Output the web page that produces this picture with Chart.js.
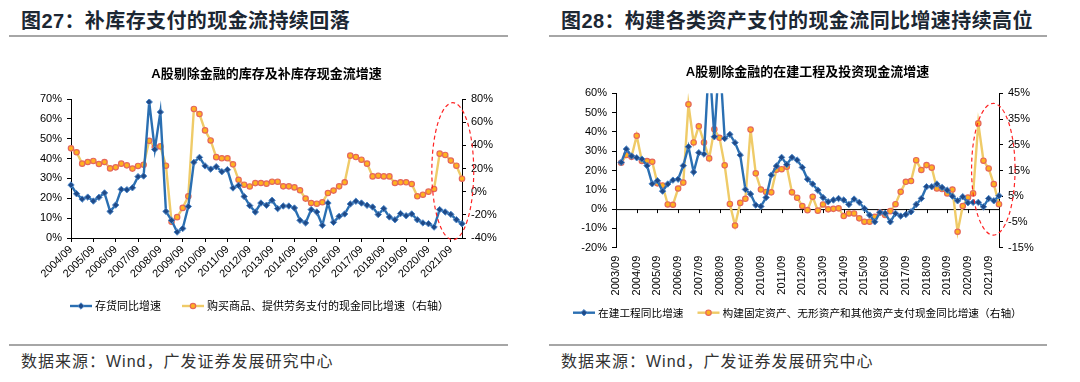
<!DOCTYPE html>
<html>
<head>
<meta charset="utf-8">
<script src="https://cdn.jsdelivr.net/npm/chart.js@4.4.0/dist/chart.umd.min.js"></script>
<style>
  body { margin: 0; width: 1080px; height: 382px; background: #fff; position: relative; overflow: hidden;
         font-family: 'Liberation Sans', 'Noto Sans CJK SC', sans-serif; }
  .head { position: absolute; top: 9px; line-height: 24px; font-size: 20px; font-weight: bold; color: #1c2733;
          letter-spacing: 0.4px; white-space: nowrap; }
  .rule { position: absolute; height: 2px; background: #a6a6a6; }
  .foot { position: absolute; top: 351px; line-height: 22px; font-size: 16px; color: #333; letter-spacing: 1px; white-space: nowrap; }
  .box { position: absolute; top: 40px; width: 540px; height: 290px; }
</style>
</head>
<body>
<div class="head" style="left:21px">图27：补库存支付的现金流持续回落</div>
<div class="rule" style="left:9px; top:35px; width:499px"></div>
<div class="head" style="left:561px">图28：构建各类资产支付的现金流同比增速持续高位</div>
<div class="rule" style="left:549px; top:35px; width:498px"></div>

<div class="box" style="left:0"><canvas id="invChart"></canvas></div>
<div class="box" style="left:540px"><canvas id="capChart"></canvas></div>

<div class="rule" style="left:9px; top:344px; width:499px"></div>
<div class="rule" style="left:549px; top:344px; width:498px"></div>
<div class="foot" style="left:21px">数据来源：Wind，广发证券发展研究中心</div>
<div class="foot" style="left:561px">数据来源：Wind，广发证券发展研究中心</div>

<script>
const FONT = "'Liberation Sans', 'Noto Sans CJK SC', sans-serif";

// quarters 2003/09 .. 2022/03
const quarters = ['2003/09','2003/12',
  '2004/03','2004/06','2004/09','2004/12','2005/03','2005/06','2005/09','2005/12',
  '2006/03','2006/06','2006/09','2006/12','2007/03','2007/06','2007/09','2007/12',
  '2008/03','2008/06','2008/09','2008/12','2009/03','2009/06','2009/09','2009/12',
  '2010/03','2010/06','2010/09','2010/12','2011/03','2011/06','2011/09','2011/12',
  '2012/03','2012/06','2012/09','2012/12','2013/03','2013/06','2013/09','2013/12',
  '2014/03','2014/06','2014/09','2014/12','2015/03','2015/06','2015/09','2015/12',
  '2016/03','2016/06','2016/09','2016/12','2017/03','2017/06','2017/09','2017/12',
  '2018/03','2018/06','2018/09','2018/12','2019/03','2019/06','2019/09','2019/12',
  '2020/03','2020/06','2020/09','2020/12','2021/03','2021/06','2021/09','2021/12',
  '2022/03'];
const invQuarters = quarters.slice(4); // left chart starts 2004/09

// left chart: inventory yoy (left axis) and cash paid for goods yoy (right axis), %
const inventoryYoY = [26.7, 22.3, 19.6, 20.6, 18.6, 20.5, 22.7, 13.4, 16.6, 24.5,
  24.3, 25.3, 30.9, 31.2, 68.5, 44.6, 63.4, 13.4, 8.9, 3.0,
  4.8, 15.9, 38.1, 40.6, 36.3, 34.7, 35.9, 33.4, 34.4, 25.2,
  26.5, 20.9, 16.3, 13.1, 17.6, 16.5, 19.0, 14.8, 16.1, 16.1,
  15.1, 8.9, 7.6, 14.3, 13.1, 6.4, 17.6, 7.9, 10.9, 12.1,
  17.1, 18.5, 17.6, 16.5, 15.6, 11.8, 14.8, 10.6, 9.2, 12.3,
  11.2, 12.1, 9.2, 7.6, 7.2, 5.5, 14.3, 13.1, 11.9, 9.2, 7.2];
const purchaseCashYoY = [37.4, 34.0, 24.2, 25.6, 26.5, 23.9, 25.6, 20.1, 21.0, 24.2,
  22.7, 19.9, 22.2, 23.3, 43.9, 38.4, 39.1, 22.4, -26, -22,
  -14, -4, 71.4, 67.0, 52.9, 44.2, 29.8, 28.8, 28.8, 23.6,
  10.2, 6.0, 4.5, 7.4, 7.5, 6.9, 8.6, 8.6, 4.6, 4.6,
  3.7, 1.2, -6.0, -9.8, -10.4, -9.2, -1.2, 0.9, 4.6, 8.1,
  31.1, 29.9, 27.6, 24.2, 13.2, 13.8, 13.2, 13.2, 7.5, 8.1,
  8.1, 6.6, -4.0, -2.6, 0.0, 2.3, 32.8, 31.7, 26.8, 22.4, 11.2];

// right chart: construction in progress yoy (left axis) and capex cash yoy (right axis), %
const cipYoY = [null, 24.2, 31.1, 27.5, 26.6, 25.9, 22.5, 13.1, 14.7, 9.3,
  13.0, 15.0, 15.5, 22.5, 32.3, 19.2, 29.2, 28.5, 78, 37.5,
  80, 36.6, 38.7, 34.4, 28.0, 10.2, 7.8, 2.1, 1.4, 6.0,
  17.6, 22.3, 26.8, 23.1, 26.8, 25.4, 21.6, 15.5, 13.0, 9.8,
  6.0, 3.8, 4.7, 5.5, 4.7, 2.4, 5.2, 3.5, 0.3, -3.1,
  -6.6, -1.7, -2.2, -6.6, -2.2, -3.6, -2.8, -1.4, 2.4, 5.5,
  11.6, 11.6, 13.0, 11.2, 9.8, 6.7, 4.3, 6.4, 3.3, 3.5,
  3.5, 1.2, 5.5, 4.3, 6.9];
const capexCashYoY = [null, 18.0, 21.0, 20.3, 28.5, 18.7, 18.7, 18.4, 10.0, 9.2,
  1.8, 1.7, 8.0, 10.3, 40.7, 25.9, 32.2, 25.9, 19.7, 31.0,
  27.7, 17.0, 2.0, -6.4, 2.4, 4.0, 30.9, 13.9, 7.6, 6.6,
  6.5, 15.3, 15.5, 16.5, 6.5, 4.4, 1.2, -0.4, 4.8, -0.6,
  1.8, -0.1, 0.1, 0.3, -2.7, -1.7, -1.7, -3.6, -4.9, -4.9,
  -3.0, -1.3, -2.3, -0.8, 1.9, 6.7, 10.6, 10.9, 19.0, 15.2,
  17.1, 16.1, 8.0, 7.8, 6.1, 7.6, -8.8, 1.2, 4.5, 6.1,
  33.3, 18.8, 15.8, 9.7, 1.9];

// axis ranges [min, max, step]
const invLeftAxis = [0, 70, 10];
const invRightAxis = [-40, 80, 20];
const capLeftAxis = [-20, 60, 10];
const capRightAxis = [-15, 45, 10];

const BLUE = { line: '#2a6fb2', fill: '#1f4a88', edge: '#4a86c8' };
const GOLD = { line: '#efcb68', fill: '#ffb21e', edge: '#e5675c' };

function blueSet(label, data) {
  return {
    label, data, yAxisID: 'y', borderColor: BLUE.line, borderWidth: 2.4,
    pointStyle: 'rectRot', pointRadius: 3.2, pointBackgroundColor: BLUE.fill,
    pointBorderColor: BLUE.edge, pointBorderWidth: 1, tension: 0, spanGaps: false
  };
}
function goldSet(label, data) {
  return {
    label, data, yAxisID: 'y1', borderColor: GOLD.line, borderWidth: 2.4,
    pointStyle: 'circle', pointRadius: 2.7, pointBackgroundColor: GOLD.fill,
    pointBorderColor: GOLD.edge, pointBorderWidth: 1.2, tension: 0, spanGaps: false
  };
}

function yearTick(v) {
  const l = this.getLabelForValue(v);
  return l.endsWith('/09') ? l : null;
}
const pct = v => v + '%';

function yAxis(range, side, width) {
  return {
    position: side, min: range[0], max: range[1],
    grid: { drawOnChartArea: false, drawTicks: true, tickLength: 4, color: '#000' },
    border: { color: '#000' },
    ticks: { stepSize: range[2], callback: pct, padding: 5, color: '#000', font: { size: 11 } },
    afterFit: s => { s.width = width; }
  };
}

// dashed red ring drawn in data units
const ovalPlugin = {
  id: 'oval',
  afterDraw(chart, args, o) {
    if (!o.from) return;
    const xs = chart.scales.x, ys = chart.scales[o.axis];
    const x1 = xs.getPixelForValue(o.from[0]), x2 = xs.getPixelForValue(o.to[0]);
    const y1 = ys.getPixelForValue(o.from[1]), y2 = ys.getPixelForValue(o.to[1]);
    const ctx = chart.ctx;
    ctx.save();
    ctx.strokeStyle = '#ff2424';
    ctx.lineWidth = 1.2;
    ctx.setLineDash([4, 3]);
    ctx.beginPath();
    ctx.ellipse((x1 + x2) / 2, (y1 + y2) / 2, Math.abs(x2 - x1) / 2, Math.abs(y2 - y1) / 2, 0, 0, Math.PI * 2);
    ctx.stroke();
    ctx.restore();
  }
};

// horizontal axis through zero (right chart)
const zeroAxisPlugin = {
  id: 'zeroAxis',
  beforeDatasetsDraw(chart, args, o) {
    if (!o.on) return;
    const xs = chart.scales.x, y0 = chart.scales.y.getPixelForValue(0);
    const ctx = chart.ctx, a = chart.chartArea;
    ctx.save();
    ctx.strokeStyle = '#000';
    ctx.lineWidth = 1;
    ctx.beginPath();
    ctx.moveTo(a.left, y0 + 0.5);
    ctx.lineTo(a.right, y0 + 0.5);
    chart.data.labels.forEach((l, i) => {
      if (!l.endsWith('/09')) return;
      const x = Math.round(xs.getPixelForValue(i)) + 0.5;
      ctx.moveTo(x, y0);
      ctx.lineTo(x, y0 + 4);
    });
    ctx.stroke();
    ctx.restore();
  }
};

// legend: short line with marker, then text
const lineLegendPlugin = {
  id: 'lineLegend',
  afterDraw(chart, args, o) {
    const ctx = chart.ctx;
    let x = o.x;
    ctx.save();
    ctx.font = o.font;
    ctx.textBaseline = 'middle';
    chart.data.datasets.forEach(ds => {
      ctx.strokeStyle = ds.borderColor;
      ctx.lineWidth = 2.4;
      ctx.beginPath();
      ctx.moveTo(x, o.y);
      ctx.lineTo(x + 22, o.y);
      ctx.stroke();
      ctx.fillStyle = ds.pointBackgroundColor;
      ctx.strokeStyle = ds.pointBorderColor;
      ctx.lineWidth = ds.pointBorderWidth;
      Chart.helpers.drawPoint(ctx, { pointStyle: ds.pointStyle, radius: ds.pointRadius, rotation: 0, borderWidth: ds.pointBorderWidth }, x + 11, o.y);
      ctx.fillStyle = '#000';
      ctx.fillText(ds.label, x + 25, o.y);
      x += 25 + ctx.measureText(ds.label).width + o.gap;
    });
    ctx.restore();
  }
};

Chart.defaults.font.family = FONT;
Chart.defaults.color = '#000';

new Chart(document.getElementById('invChart'), {
  type: 'line',
  data: {
    labels: invQuarters,
    datasets: [
      blueSet('存货同比增速', inventoryYoY),
      goldSet('购买商品、提供劳务支付的现金同比增速（右轴）', purchaseCashYoY)
    ]
  },
  options: {
    responsive: true, maintainAspectRatio: false, animation: false,
    layout: { padding: 0 },
    scales: {
      x: {
        type: 'category', offset: false,
        grid: { drawOnChartArea: false, drawTicks: true, tickLength: 4, color: '#000' },
        border: { color: '#000' },
        ticks: { autoSkip: false, minRotation: 45, maxRotation: 45, padding: 1, color: '#000',
                 font: { size: 11 }, callback: yearTick },
        afterFit: s => { s.height = 92; }
      },
      y: yAxis(invLeftAxis, 'left', 71),
      y1: yAxis(invRightAxis, 'right', 78)
    },
    plugins: {
      legend: { display: false },
      tooltip: { enabled: false },
      title: {
        display: true, fullSize: false, text: 'A股剔除金融的库存及补库存现金流增速',
        font: { size: 13, weight: 'bold' }, color: '#000', padding: { top: 27, bottom: 16.4 }
      },
      oval: { axis: 'y1', from: [64.6, -41.5], to: [72.1, 76.8] },
      zeroAxis: { on: false },
      lineLegend: { x: 70, y: 266, gap: 21, font: "11px 'Noto Sans CJK SC'" }
    }
  },
  plugins: [ovalPlugin, zeroAxisPlugin, lineLegendPlugin]
});

new Chart(document.getElementById('capChart'), {
  type: 'line',
  data: {
    labels: quarters,
    datasets: [
      blueSet('在建工程同比增速', cipYoY),
      goldSet('构建固定资产、无形资产和其他资产支付现金同比增速（右轴）', capexCashYoY)
    ]
  },
  options: {
    responsive: true, maintainAspectRatio: false, animation: false,
    layout: { padding: 0 },
    scales: {
      x: {
        type: 'category', offset: false,
        grid: { display: false, drawTicks: false },
        border: { display: false },
        ticks: { autoSkip: false, minRotation: 90, maxRotation: 90, padding: 8, color: '#000',
                 font: { size: 11 }, callback: yearTick },
        afterFit: s => { s.height = 82.3; }
      },
      y: yAxis(capLeftAxis, 'left', 76),
      y1: yAxis(capRightAxis, 'right', 81)
    },
    plugins: {
      legend: { display: false },
      tooltip: { enabled: false },
      title: {
        display: true, fullSize: false, text: 'A股剔除金融的在建工程及投资现金流增速',
        font: { size: 13, weight: 'bold' }, color: '#000', padding: { top: 24.2, bottom: 13.5 }
      },
      oval: { axis: 'y1', from: [68.7, -10.1], to: [77.1, 41.1] },
      zeroAxis: { on: true },
      lineLegend: { x: 33, y: 272.7, gap: 14, font: "10.7px 'Noto Sans CJK SC'" }
    }
  },
  plugins: [ovalPlugin, zeroAxisPlugin, lineLegendPlugin]
});
</script>
</body>
</html>
